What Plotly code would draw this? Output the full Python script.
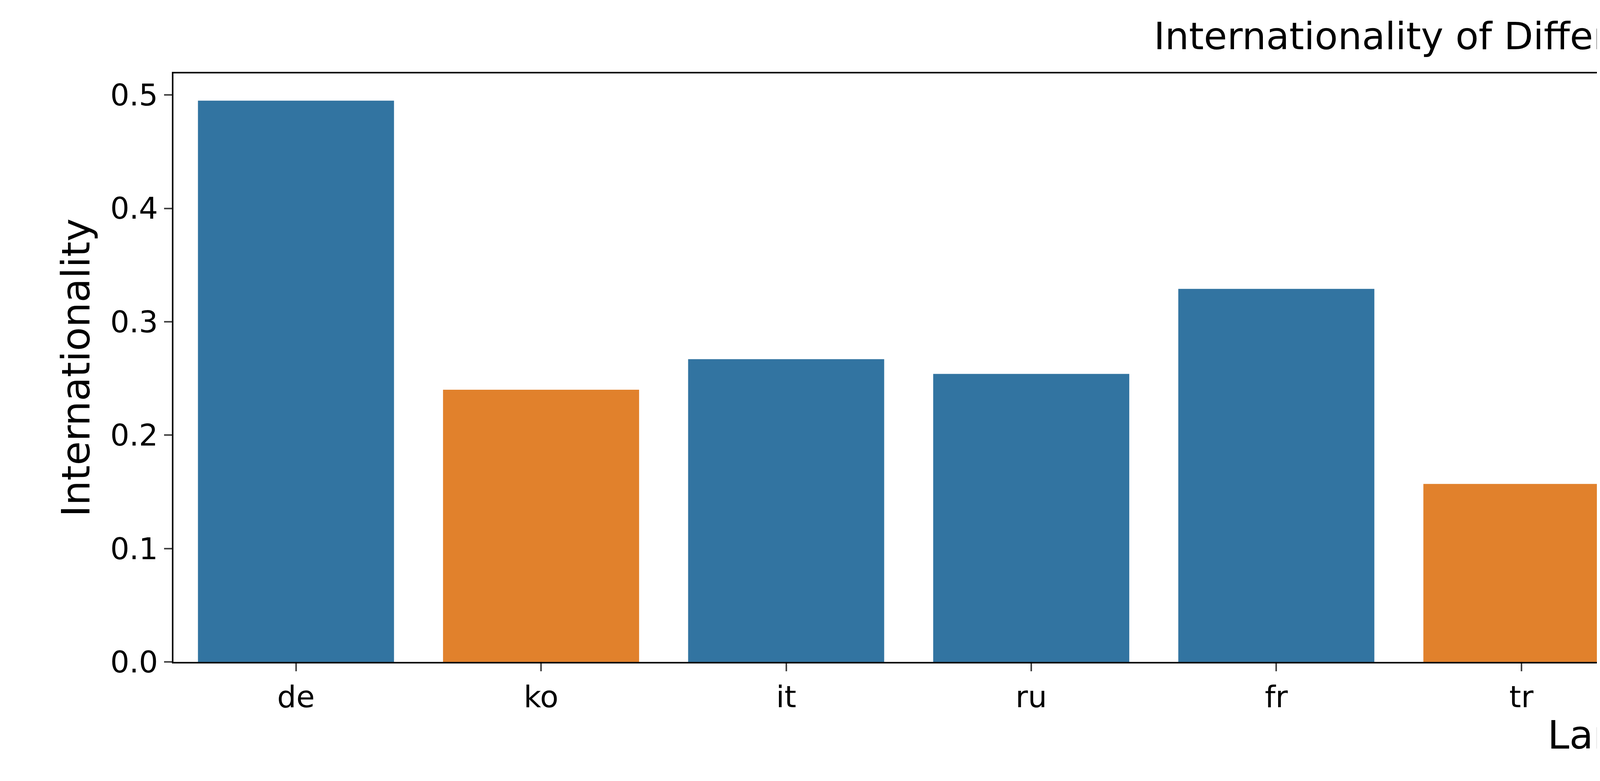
import plotly.graph_objects as go

languages = ["de", "ko", "it", "ru", "fr", "tr", "id", "ar", "pt", "ja", "es", "en"]
values = [0.495, 0.240, 0.267, 0.254, 0.329, 0.157, 0.472, 0.260, 0.239, 0.057, 0.173, 0.165]
areas = ["West", "East", "West", "West", "West", "East", "East", "East", "West", "East", "West", "West"]
colors = {"West": "#3274a1", "East": "#e1812c"}

fig = go.Figure()
for area in ["West", "East"]:
    xs = [l for l, a in zip(languages, areas) if a == area]
    ys = [v for v, a in zip(values, areas) if a == area]
    fig.add_trace(go.Bar(x=xs, y=ys, name=area, marker_color=colors[area],
                         marker_line_width=0, width=0.8))

fig.update_layout(
    width=8000, height=2000,
    barmode="overlay",
    plot_bgcolor="white", paper_bgcolor="white",
    font=dict(family="DejaVu Sans", size=77, color="black"),
    title=dict(text="Internationality of Different Languages (All)", x=0.5, xanchor="center",
               y=0.975, yanchor="top", font=dict(size=97)),
    margin=dict(l=436, r=35, t=180, b=313),
    legend=dict(title=dict(text="Area", side="top center"), x=0.993, y=0.985, xanchor="right", yanchor="top",
                bordercolor="#cccccc", borderwidth=4, font=dict(size=77)),
)
fig.update_xaxes(categoryorder="array", categoryarray=languages, range=[-0.5, 11.5],
                 title=dict(text="Language", font=dict(size=100), standoff=20),
                 showline=True, linecolor="black", linewidth=4, mirror=True,
                 ticks="outside", ticklen=20, tickwidth=4)
fig.update_yaxes(range=[0, 0.519], dtick=0.1, tickformat=".1f",
                 title=dict(text="Internationality", font=dict(size=100), standoff=20),
                 showline=True, linecolor="black", linewidth=4, mirror=True, showgrid=False,
                 ticks="outside", ticklen=20, tickwidth=4, zeroline=False)

fig.write_html("out.html")
